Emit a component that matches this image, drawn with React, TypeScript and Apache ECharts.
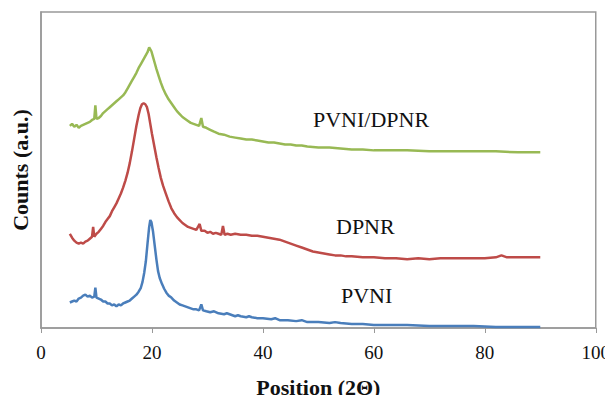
import React, { useEffect, useRef } from "react";
import * as echarts from "echarts";

const xTicks = [0, 20, 40, 60, 80, 100];

const pvni: [number, number][] = [
  [5.2, 26], [5.6, 27], [6.0, 28], [6.4, 27], [6.8, 30], [7.2, 31], [7.6, 33], [8.0, 34], [8.4, 32], [8.8, 33],
  [9.2, 31], [9.6, 32], [9.8, 41], [10.0, 31], [10.4, 30], [10.8, 29], [11.2, 27], [11.6, 27], [12.0, 25], [12.4, 25],
  [12.8, 23], [13.2, 24], [13.6, 22], [14.0, 24], [14.4, 23], [14.8, 25], [15.2, 26], [15.6, 27], [16.0, 28], [16.4, 30],
  [16.8, 32], [17.2, 34], [17.6, 37], [18.0, 41], [18.3, 47], [18.6, 56], [18.9, 68], [19.2, 86], [19.5, 103], [19.7, 110],
  [19.9, 108], [20.2, 98], [20.5, 84], [20.8, 70], [21.1, 58], [21.4, 51], [21.8, 45], [22.2, 40], [22.6, 36], [23.0, 33],
  [23.5, 31], [24.0, 28], [24.5, 26], [25.0, 24], [25.5, 23], [26.0, 22], [26.5, 21], [27.0, 20], [27.5, 19], [28.0, 19],
  [28.5, 18], [28.9, 24], [29.2, 18], [29.8, 17], [30.5, 16], [31.2, 17], [32.0, 15], [33.0, 14], [33.5, 15], [34.0, 14], [35.0, 12],
  [35.5, 13], [36.0, 12], [37.0, 11], [37.5, 12], [38.0, 11], [39.0, 10], [40.0, 10], [41.5, 9], [42.2, 10], [43.0, 8], [44.5, 8],
  [46.0, 7], [47.0, 8], [48.0, 6], [50.0, 6], [52.0, 5], [53.0, 6], [54.0, 5], [56.0, 4], [58.0, 4], [60.0, 3], [63.0, 3],
  [66.0, 3], [70.0, 2], [74.0, 2], [78.0, 2], [82.0, 1], [86.0, 1], [90.0, 1],
];

const dpnr: [number, number][] = [
  [5.2, 96], [5.6, 92], [6.0, 89], [6.4, 87], [6.8, 86], [7.2, 87], [7.6, 86], [8.0, 88], [8.4, 89], [8.8, 91],
  [9.2, 93], [9.4, 103], [9.6, 93], [10.0, 96], [10.4, 98], [10.8, 101], [11.2, 104], [11.6, 108], [12.0, 111], [12.4, 114],
  [12.8, 119], [13.2, 123], [13.6, 127], [14.0, 132], [14.4, 137], [14.8, 143], [15.2, 150], [15.6, 158], [16.0, 168], [16.4, 180],
  [16.8, 193], [17.2, 206], [17.6, 217], [17.9, 224], [18.2, 228], [18.5, 229], [18.8, 228], [19.1, 225], [19.4, 218], [19.7, 208],
  [20.0, 198], [20.4, 186], [20.8, 174], [21.2, 163], [21.6, 153], [22.0, 145], [22.5, 137], [23.0, 129], [23.5, 122], [24.0, 117],
  [24.5, 113], [25.0, 110], [25.5, 107], [26.0, 105], [26.5, 103], [27.0, 102], [27.5, 101], [28.0, 100], [28.6, 106], [28.9, 99],
  [29.5, 99], [30.0, 97], [30.5, 98], [31.0, 96], [31.5, 97], [32.0, 96], [32.5, 95], [32.8, 104], [33.1, 95], [33.6, 96],
  [34.2, 95], [35.0, 96], [36.0, 95], [37.0, 95], [38.0, 94], [39.0, 94], [40.0, 93], [41.0, 92], [42.0, 91], [43.0, 90],
  [44.0, 88], [45.0, 86], [46.0, 84], [47.0, 82], [48.0, 80], [49.0, 78], [50.0, 77], [51.0, 76], [52.0, 75], [53.0, 74],
  [54.0, 74], [55.0, 73], [56.0, 73], [58.0, 72], [60.0, 72], [62.0, 71], [64.0, 71], [66.0, 70], [68.0, 71], [70.0, 70],
  [72.0, 71], [74.0, 71], [76.0, 71], [78.0, 71], [80.0, 71], [82.0, 72], [83.0, 74], [84.0, 72], [86.0, 72], [88.0, 72],
  [90.0, 72],
];

const blend: [number, number][] = [
  [5.2, 206], [5.6, 208], [6.0, 205], [6.4, 207], [6.8, 204], [7.2, 206], [7.6, 207], [8.0, 208], [8.4, 209], [8.8, 210],
  [9.2, 212], [9.6, 213], [9.8, 227], [10.0, 213], [10.4, 214], [10.8, 216], [11.2, 219], [11.6, 221], [12.0, 223], [12.4, 225],
  [12.8, 227], [13.2, 229], [13.6, 231], [14.0, 233], [14.4, 235], [14.8, 237], [15.2, 240], [15.6, 244], [16.0, 248], [16.4, 252],
  [16.8, 256], [17.2, 260], [17.6, 265], [18.0, 269], [18.4, 273], [18.8, 277], [19.2, 281], [19.5, 286], [19.7, 284], [19.9, 282],
  [20.2, 276], [20.5, 270], [20.8, 264], [21.2, 257], [21.6, 250], [22.0, 244], [22.5, 238], [23.0, 233], [23.5, 229], [24.0, 225],
  [24.5, 221], [25.0, 218], [25.5, 215], [26.0, 213], [26.5, 211], [27.0, 209], [27.5, 208], [28.0, 207], [28.5, 206], [28.9, 214],
  [29.2, 205], [29.8, 204], [30.5, 202], [31.2, 200], [32.0, 198], [33.0, 197], [34.0, 195], [35.0, 194], [36.0, 193], [37.0, 192],
  [38.0, 192], [39.0, 191], [40.0, 190], [41.0, 189], [42.0, 189], [43.0, 188], [44.0, 187], [45.0, 187], [46.0, 186], [47.0, 186],
  [48.0, 185], [50.0, 184], [52.0, 184], [54.0, 183], [56.0, 182], [58.0, 182], [60.0, 181], [63.0, 181], [66.0, 181], [70.0, 180],
  [74.0, 180], [78.0, 180], [82.0, 180], [86.0, 179], [90.0, 179],
];

const seriesNames = ["PVNI", "DPNR", "PVNI/DPNR"];
const seriesColors = ["#4A7EBB", "#BE4B48", "#98B954"];
const labelTexts = ["PVNI", "DPNR", "PVNI/DPNR"];

const FONT = "Liberation Serif";

export default function App() {
  const ref = useRef<HTMLDivElement>(null);
  useEffect(() => {
    if (!ref.current) return;
    const chart = echarts.init(ref.current, undefined, { renderer: "svg" });
    const datasets = [pvni, dpnr, blend];
    chart.setOption({
      animation: false,
      backgroundColor: "#ffffff",
      textStyle: { fontFamily: FONT },
      grid: {
        left: 41,
        right: 16,
        top: 12,
        bottom: 69,
        show: true,
        borderColor: "#999999",
        borderWidth: 1.5,
      },
      xAxis: {
        type: "value",
        min: xTicks[0],
        max: xTicks[xTicks.length - 1],
        interval: 20,
        name: "Position (2Θ)",
        nameLocation: "middle",
        nameGap: 48,
        nameTextStyle: { fontFamily: FONT, fontWeight: "bold", fontSize: 22, color: "#111" },
        axisLine: { show: true, lineStyle: { color: "#999999", width: 1.5 } },
        axisTick: { show: true, inside: false, length: 5, lineStyle: { color: "#999999" } },
        axisLabel: { fontFamily: FONT, fontSize: 19, color: "#111", margin: 15 },
        splitLine: { show: false },
      },
      yAxis: {
        type: "value",
        min: 0,
        max: 322,
        name: "Counts (a.u.)",
        nameLocation: "middle",
        nameGap: 10,
        nameRotate: 90,
        nameTextStyle: { fontFamily: FONT, fontWeight: "bold", fontSize: 22, color: "#111" },
        axisLine: { show: true, lineStyle: { color: "#999999", width: 1.5 } },
        axisTick: { show: false },
        axisLabel: { show: false },
        splitLine: { show: false },
      },
      series: datasets.map((d, i) => ({
        name: seriesNames[i],
        type: "line",
        data: d,
        showSymbol: false,
        symbol: "none",
        lineStyle: { color: seriesColors[i], width: 2.5 },
        z: 3 - i,
      })),
      graphic: [
        { type: "text", left: 341, top: 284, style: { text: labelTexts[0], font: `22px "${FONT}"`, fill: "#111" } },
        { type: "text", left: 336, top: 215, style: { text: labelTexts[1], font: `22px "${FONT}"`, fill: "#111" } },
        { type: "text", left: 313, top: 108, style: { text: labelTexts[2], font: `22px "${FONT}"`, fill: "#111" } },
      ],
    });
    return () => chart.dispose();
  }, []);
  return <div ref={ref} style={{ width: 613, height: 403, margin: -8 }} />;
}
